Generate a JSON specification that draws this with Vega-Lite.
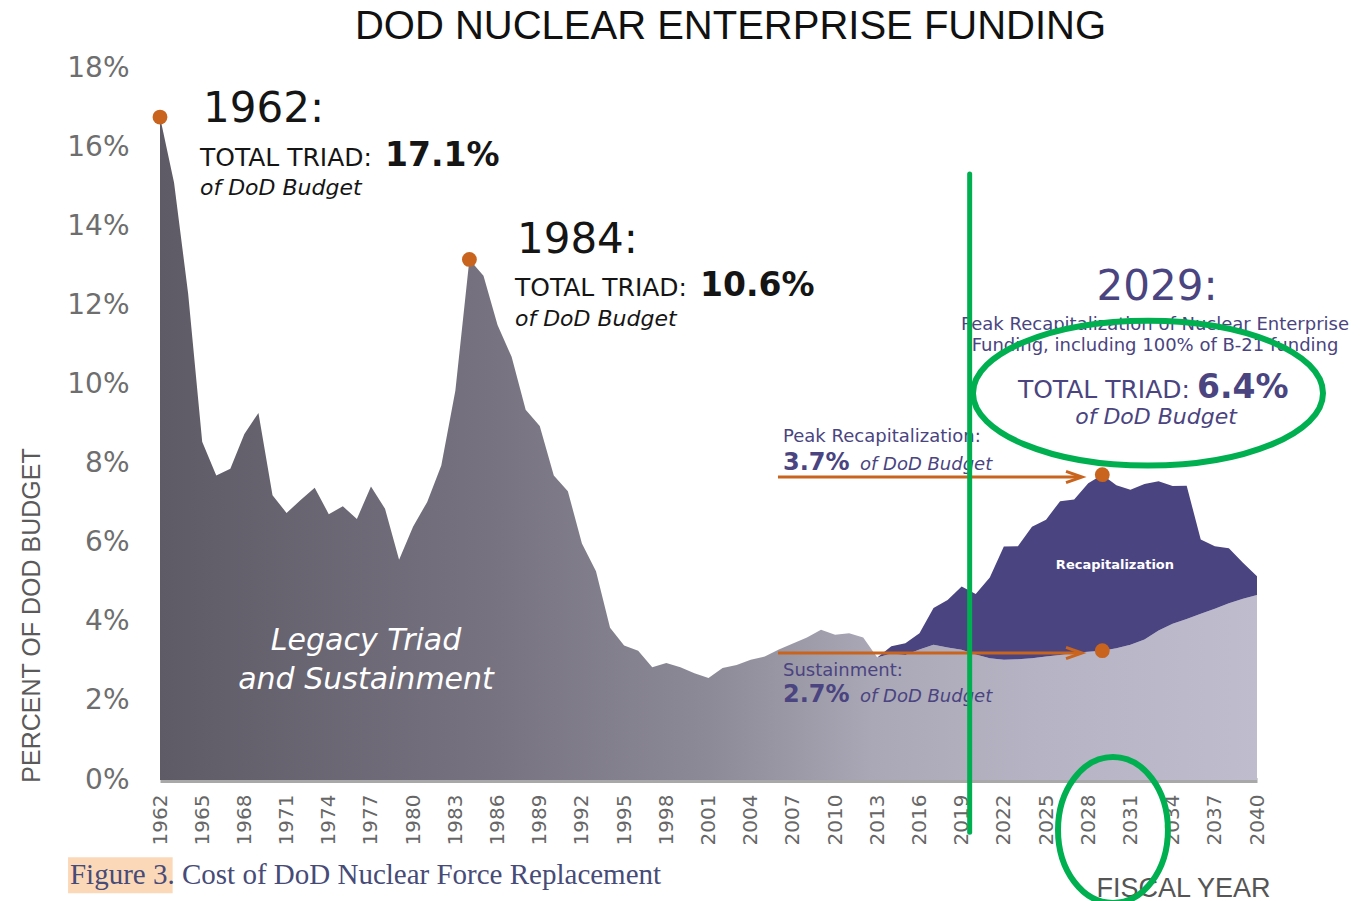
{
  "$schema": "https://vega.github.io/schema/vega-lite/v6.json",
  "width": 1097,
  "height": 712,
  "autosize": {"type": "none"},
  "padding": {"left": 160, "top": 68, "right": 109, "bottom": 121},
  "background": "white",
  "title": {"text": "DOD NUCLEAR ENTERPRISE FUNDING", "font": "Liberation Sans", "fontSize": 40, "fontWeight": "normal", "color": "#111111", "anchor": "middle", "dx": 22, "offset": -25, "baseline": "alphabetic"},
  "config": {"view": {"stroke": null}},
  "data": {"values": [
    {"year": 1962, "base": 16.76}, {"year": 1963, "base": 15.1}, {"year": 1964, "base": 12.3}, {"year": 1965, "base": 8.55},
    {"year": 1966, "base": 7.7}, {"year": 1967, "base": 7.87}, {"year": 1968, "base": 8.75}, {"year": 1969, "base": 9.28},
    {"year": 1970, "base": 7.2}, {"year": 1971, "base": 6.75}, {"year": 1972, "base": 7.08}, {"year": 1973, "base": 7.39},
    {"year": 1974, "base": 6.72}, {"year": 1975, "base": 6.92}, {"year": 1976, "base": 6.6}, {"year": 1977, "base": 7.42},
    {"year": 1978, "base": 6.86}, {"year": 1979, "base": 5.57}, {"year": 1980, "base": 6.41}, {"year": 1981, "base": 7.03},
    {"year": 1982, "base": 7.95}, {"year": 1983, "base": 9.84}, {"year": 1984, "base": 13.16}, {"year": 1985, "base": 12.75},
    {"year": 1986, "base": 11.5}, {"year": 1987, "base": 10.7}, {"year": 1988, "base": 9.36}, {"year": 1989, "base": 8.95},
    {"year": 1990, "base": 7.7}, {"year": 1991, "base": 7.3}, {"year": 1992, "base": 5.98}, {"year": 1993, "base": 5.28},
    {"year": 1994, "base": 3.85}, {"year": 1995, "base": 3.4}, {"year": 1996, "base": 3.27}, {"year": 1997, "base": 2.85},
    {"year": 1998, "base": 2.96}, {"year": 1999, "base": 2.85}, {"year": 2000, "base": 2.7}, {"year": 2001, "base": 2.58},
    {"year": 2002, "base": 2.83}, {"year": 2003, "base": 2.91}, {"year": 2004, "base": 3.04}, {"year": 2005, "base": 3.12},
    {"year": 2006, "base": 3.3}, {"year": 2007, "base": 3.45}, {"year": 2008, "base": 3.6}, {"year": 2009, "base": 3.8},
    {"year": 2010, "base": 3.67}, {"year": 2011, "base": 3.71}, {"year": 2012, "base": 3.6},
    {"year": 2013, "base": 3.1, "total": 3.1}, {"year": 2014, "base": 3.2, "total": 3.38}, {"year": 2015, "base": 3.16, "total": 3.46},
    {"year": 2016, "base": 3.3, "total": 3.71}, {"year": 2017, "base": 3.42, "total": 4.35}, {"year": 2018, "base": 3.35, "total": 4.55},
    {"year": 2019, "base": 3.29, "total": 4.89}, {"year": 2020, "base": 3.17, "total": 4.7}, {"year": 2021, "base": 3.08, "total": 5.12},
    {"year": 2022, "base": 3.04, "total": 5.9}, {"year": 2023, "base": 3.05, "total": 5.91}, {"year": 2024, "base": 3.08, "total": 6.4},
    {"year": 2025, "base": 3.12, "total": 6.58}, {"year": 2026, "base": 3.16, "total": 7.05}, {"year": 2027, "base": 3.22, "total": 7.09},
    {"year": 2028, "base": 3.24, "total": 7.5}, {"year": 2029, "base": 3.27, "total": 7.72}, {"year": 2030, "base": 3.33, "total": 7.45},
    {"year": 2031, "base": 3.42, "total": 7.34}, {"year": 2032, "base": 3.55, "total": 7.48}, {"year": 2033, "base": 3.78, "total": 7.55},
    {"year": 2034, "base": 3.95, "total": 7.43}, {"year": 2035, "base": 4.07, "total": 7.44}, {"year": 2036, "base": 4.2, "total": 6.08},
    {"year": 2037, "base": 4.33, "total": 5.91}, {"year": 2038, "base": 4.47, "total": 5.86}, {"year": 2039, "base": 4.58, "total": 5.49},
    {"year": 2040, "base": 4.68, "total": 5.15}
  ]},
  "layer": [
    {
      "mark": {"type": "area", "interpolate": "linear", "color": {"gradient": "linear", "x1": 0, "y1": 0, "x2": 1, "y2": 0, "stops": [
        {"offset": 0, "color": "#5e5a66"}, {"offset": 0.3, "color": "#76727f"}, {"offset": 0.5, "color": "#8d8a97"},
        {"offset": 0.65, "color": "#aaa7b6"}, {"offset": 0.8, "color": "#b6b4c4"}, {"offset": 1, "color": "#bfbdcd"}]}},
      "encoding": {
        "x": {"field": "year", "type": "quantitative", "scale": {"domain": [1962, 2040], "nice": false, "zero": false},
          "axis": {"values": [1962,1965,1968,1971,1974,1977,1980,1983,1986,1989,1992,1995,1998,2001,2004,2007,2010,2013,2016,2019,2022,2025,2028,2031,2034,2037,2040],
            "format": "d", "labelAngle": 270, "labelFont": "DejaVu Sans", "labelFontSize": 20, "labelColor": "#666666", "labelPadding": 14,
            "ticks": false, "tickSize": 0, "grid": false, "domain": true, "domainColor": "#a8a8a8", "domainWidth": 5, "labelOverlap": false,
            "title": "FISCAL YEAR", "titleFont": "Liberation Sans", "titleFontSize": 27, "titleFontWeight": "normal", "titleColor": "#555555",
            "titleAnchor": "end", "titleAlign": "right", "titleBaseline": "alphabetic", "titleX": 1110, "titleY": 116}},
        "y": {"field": "base", "type": "quantitative", "scale": {"domain": [0, 18], "nice": false, "zero": true},
          "axis": {"values": [0,2,4,6,8,10,12,14,16,18], "labelExpr": "datum.value + '%'", "labelFont": "DejaVu Sans", "labelFontSize": 28,
            "labelColor": "#6e6e6e", "labelPadding": 31, "ticks": false, "tickSize": 0, "grid": false, "domain": false,
            "title": "PERCENT OF DOD BUDGET", "titleFont": "Liberation Sans", "titleFontSize": 25, "titleFontWeight": "normal", "titleColor": "#5a5a5a",
            "titleAngle": 270, "titleAlign": "center", "titleBaseline": "middle", "titleX": -129, "titleY": 547}}
      }
    },
    {
      "transform": [{"filter": "datum.year >= 2013"}],
      "mark": {"type": "area", "interpolate": "linear", "color": "#4a4480"},
      "encoding": {
        "x": {"field": "year", "type": "quantitative"},
        "y": {"field": "total", "type": "quantitative"},
        "y2": {"field": "base"}
      }
    },
    {
      "data": {"values": [{}]},
      "mark": {"type": "rule", "color": "#c8641e", "strokeWidth": 3},
      "encoding": {"x": {"datum": 2005.94, "type": "quantitative"}, "x2": {"datum": 2027.3}, "y": {"datum": 7.66, "type": "quantitative"}}
    },
    {
      "data": {"values": [{}]},
      "mark": {"type": "rule", "color": "#c8641e", "strokeWidth": 3},
      "encoding": {"x": {"datum": 2005.94, "type": "quantitative"}, "x2": {"datum": 2027.3}, "y": {"datum": 3.21, "type": "quantitative"}}
    },
    {
      "data": {"values": [{}]},
      "mark": {"type": "point", "shape": "M -1 -0.7 L 1 0 L -1 0.7", "filled": false, "stroke": "#c8641e", "strokeWidth": 3, "size": 256, "opacity": 1},
      "encoding": {"x": {"datum": 2026.99, "type": "quantitative"}, "y": {"datum": 7.66, "type": "quantitative"}}
    },
    {
      "data": {"values": [{}]},
      "mark": {"type": "point", "shape": "M -1 -0.7 L 1 0 L -1 0.7", "filled": false, "stroke": "#c8641e", "strokeWidth": 3, "size": 256, "opacity": 1},
      "encoding": {"x": {"datum": 2026.99, "type": "quantitative"}, "y": {"datum": 3.21, "type": "quantitative"}}
    },
    {
      "transform": [{"filter": "datum.year == 1962 || datum.year == 1984 || datum.year == 2029"}],
      "mark": {"type": "point", "filled": true, "color": "#c8641e", "size": 220, "opacity": 1},
      "encoding": {"x": {"field": "year", "type": "quantitative"}, "y": {"field": "base", "type": "quantitative"}}
    },
    {
      "transform": [{"filter": "datum.year == 2029"}],
      "mark": {"type": "point", "filled": true, "color": "#c8641e", "size": 220, "opacity": 1},
      "encoding": {"x": {"field": "year", "type": "quantitative"}, "y": {"field": "total", "type": "quantitative"}}
    },
    {
      "data": {"values": [{}]},
      "mark": {"type": "text", "text": "1962:", "font": "DejaVu Sans", "fontSize": 42, "align": "left", "baseline": "alphabetic", "color": "#151515"},
      "encoding": {"x": {"datum": 1965.06, "type": "quantitative"}, "y": {"datum": 16.63, "type": "quantitative"}}
    },
    {
      "data": {"values": [{}]},
      "mark": {"type": "text", "text": "TOTAL TRIAD:", "font": "DejaVu Sans", "fontSize": 25, "align": "left", "baseline": "alphabetic", "color": "#151515"},
      "encoding": {"x": {"datum": 1964.84, "type": "quantitative"}, "y": {"datum": 15.52, "type": "quantitative"}}
    },
    {
      "data": {"values": [{}]},
      "mark": {"type": "text", "text": "17.1%", "font": "DejaVu Sans", "fontSize": 33, "fontWeight": "bold", "align": "left", "baseline": "alphabetic", "color": "#151515"},
      "encoding": {"x": {"datum": 1978.0, "type": "quantitative"}, "y": {"datum": 15.52, "type": "quantitative"}}
    },
    {
      "data": {"values": [{}]},
      "mark": {"type": "text", "text": "of DoD Budget", "font": "DejaVu Sans", "fontSize": 22, "fontStyle": "italic", "align": "left", "baseline": "alphabetic", "color": "#151515"},
      "encoding": {"x": {"datum": 1964.84, "type": "quantitative"}, "y": {"datum": 14.79, "type": "quantitative"}}
    },
    {
      "data": {"values": [{}]},
      "mark": {"type": "text", "text": "1984:", "font": "DejaVu Sans", "fontSize": 42, "align": "left", "baseline": "alphabetic", "color": "#151515"},
      "encoding": {"x": {"datum": 1987.38, "type": "quantitative"}, "y": {"datum": 13.32, "type": "quantitative"}}
    },
    {
      "data": {"values": [{}]},
      "mark": {"type": "text", "text": "TOTAL TRIAD:", "font": "DejaVu Sans", "fontSize": 25, "align": "left", "baseline": "alphabetic", "color": "#151515"},
      "encoding": {"x": {"datum": 1987.24, "type": "quantitative"}, "y": {"datum": 12.24, "type": "quantitative"}}
    },
    {
      "data": {"values": [{}]},
      "mark": {"type": "text", "text": "10.6%", "font": "DejaVu Sans", "fontSize": 33, "fontWeight": "bold", "align": "left", "baseline": "alphabetic", "color": "#151515"},
      "encoding": {"x": {"datum": 2000.4, "type": "quantitative"}, "y": {"datum": 12.24, "type": "quantitative"}}
    },
    {
      "data": {"values": [{}]},
      "mark": {"type": "text", "text": "of DoD Budget", "font": "DejaVu Sans", "fontSize": 22, "fontStyle": "italic", "align": "left", "baseline": "alphabetic", "color": "#151515"},
      "encoding": {"x": {"datum": 1987.24, "type": "quantitative"}, "y": {"datum": 11.48, "type": "quantitative"}}
    },
    {
      "data": {"values": [{}]},
      "mark": {"type": "text", "text": "2029:", "font": "DejaVu Sans", "fontSize": 42, "align": "center", "baseline": "alphabetic", "color": "#4a4480"},
      "encoding": {"x": {"datum": 2032.89, "type": "quantitative"}, "y": {"datum": 12.14, "type": "quantitative"}}
    },
    {
      "data": {"values": [{}]},
      "mark": {"type": "text", "text": "Peak Recapitalization of Nuclear Enterprise", "font": "DejaVu Sans", "fontSize": 18, "align": "center", "baseline": "alphabetic", "color": "#4a4480"},
      "encoding": {"x": {"datum": 2032.75, "type": "quantitative"}, "y": {"datum": 11.38, "type": "quantitative"}}
    },
    {
      "data": {"values": [{}]},
      "mark": {"type": "text", "text": "Funding, including 100% of B-21 funding", "font": "DejaVu Sans", "fontSize": 18, "align": "center", "baseline": "alphabetic", "color": "#4a4480"},
      "encoding": {"x": {"datum": 2032.75, "type": "quantitative"}, "y": {"datum": 10.85, "type": "quantitative"}}
    },
    {
      "data": {"values": [{}]},
      "mark": {"type": "text", "text": "TOTAL TRIAD:", "font": "DejaVu Sans", "fontSize": 25, "align": "left", "baseline": "alphabetic", "color": "#4a4480"},
      "encoding": {"x": {"datum": 2023.0, "type": "quantitative"}, "y": {"datum": 9.66, "type": "quantitative"}}
    },
    {
      "data": {"values": [{}]},
      "mark": {"type": "text", "text": "6.4%", "font": "DejaVu Sans", "fontSize": 33, "fontWeight": "bold", "align": "left", "baseline": "alphabetic", "color": "#4a4480"},
      "encoding": {"x": {"datum": 2035.73, "type": "quantitative"}, "y": {"datum": 9.66, "type": "quantitative"}}
    },
    {
      "data": {"values": [{}]},
      "mark": {"type": "text", "text": "of DoD Budget", "font": "DejaVu Sans", "fontSize": 22, "fontStyle": "italic", "align": "center", "baseline": "alphabetic", "color": "#4a4480"},
      "encoding": {"x": {"datum": 2032.82, "type": "quantitative"}, "y": {"datum": 9.0, "type": "quantitative"}}
    },
    {
      "data": {"values": [{}]},
      "mark": {"type": "text", "text": "Peak Recapitalization:", "font": "DejaVu Sans", "fontSize": 18, "align": "left", "baseline": "alphabetic", "color": "#4a4480"},
      "encoding": {"x": {"datum": 2006.3, "type": "quantitative"}, "y": {"datum": 8.545, "type": "quantitative"}}
    },
    {
      "data": {"values": [{}]},
      "mark": {"type": "text", "text": "3.7%", "font": "DejaVu Sans", "fontSize": 24, "fontWeight": "bold", "align": "left", "baseline": "alphabetic", "color": "#4a4480"},
      "encoding": {"x": {"datum": 2006.3, "type": "quantitative"}, "y": {"datum": 7.84, "type": "quantitative"}}
    },
    {
      "data": {"values": [{}]},
      "mark": {"type": "text", "text": "of DoD Budget", "font": "DejaVu Sans", "fontSize": 18, "fontStyle": "italic", "align": "left", "baseline": "alphabetic", "color": "#4a4480"},
      "encoding": {"x": {"datum": 2011.77, "type": "quantitative"}, "y": {"datum": 7.84, "type": "quantitative"}}
    },
    {
      "data": {"values": [{}]},
      "mark": {"type": "text", "text": "Sustainment:", "font": "DejaVu Sans", "fontSize": 18, "align": "left", "baseline": "alphabetic", "color": "#4a4480"},
      "encoding": {"x": {"datum": 2006.3, "type": "quantitative"}, "y": {"datum": 2.63, "type": "quantitative"}}
    },
    {
      "data": {"values": [{}]},
      "mark": {"type": "text", "text": "2.7%", "font": "DejaVu Sans", "fontSize": 24, "fontWeight": "bold", "align": "left", "baseline": "alphabetic", "color": "#4a4480"},
      "encoding": {"x": {"datum": 2006.3, "type": "quantitative"}, "y": {"datum": 1.97, "type": "quantitative"}}
    },
    {
      "data": {"values": [{}]},
      "mark": {"type": "text", "text": "of DoD Budget", "font": "DejaVu Sans", "fontSize": 18, "fontStyle": "italic", "align": "left", "baseline": "alphabetic", "color": "#4a4480"},
      "encoding": {"x": {"datum": 2011.77, "type": "quantitative"}, "y": {"datum": 1.97, "type": "quantitative"}}
    },
    {
      "data": {"values": [{}]},
      "mark": {"type": "text", "text": "Recapitalization", "font": "DejaVu Sans", "fontSize": 13, "fontWeight": "bold", "align": "center", "baseline": "alphabetic", "color": "#ffffff"},
      "encoding": {"x": {"datum": 2029.9, "type": "quantitative"}, "y": {"datum": 5.33, "type": "quantitative"}}
    },
    {
      "data": {"values": [{}]},
      "mark": {"type": "text", "text": "Legacy Triad", "font": "DejaVu Sans", "fontSize": 30, "fontStyle": "italic", "align": "center", "baseline": "alphabetic", "color": "#ffffff"},
      "encoding": {"x": {"datum": 1976.65, "type": "quantitative"}, "y": {"datum": 3.29, "type": "quantitative"}}
    },
    {
      "data": {"values": [{}]},
      "mark": {"type": "text", "text": "and Sustainment", "font": "DejaVu Sans", "fontSize": 30, "fontStyle": "italic", "align": "center", "baseline": "alphabetic", "color": "#ffffff"},
      "encoding": {"x": {"datum": 1976.65, "type": "quantitative"}, "y": {"datum": 2.3, "type": "quantitative"}}
    },
    {
      "data": {"values": [{}]},
      "mark": {"type": "rect", "color": "#fbd9b8"},
      "encoding": {"x": {"datum": 1955.46, "type": "quantitative"}, "x2": {"datum": 1962.9}, "y": {"datum": -1.95, "type": "quantitative"}, "y2": {"datum": -2.86}}
    },
    {
      "data": {"values": [{}]},
      "mark": {"type": "text", "text": "Figure 3. Cost of DoD Nuclear Force Replacement", "font": "Liberation Serif", "fontSize": 29, "align": "left", "baseline": "alphabetic", "color": "#474b78"},
      "encoding": {"x": {"datum": 1955.6, "type": "quantitative"}, "y": {"datum": -2.63, "type": "quantitative"}}
    },
    {
      "data": {"values": [{}]},
      "mark": {"type": "rule", "color": "#00b050", "strokeWidth": 5, "strokeCap": "round"},
      "encoding": {"x": {"datum": 2019.57, "type": "quantitative"}, "y": {"datum": 15.32, "type": "quantitative"}, "y2": {"datum": -1.32}}
    },
    {
      "data": {"values": [{}]},
      "mark": {"type": "point", "shape": "M -1 0 A 1 0.414 0 1 1 1 0 A 1 0.414 0 1 1 -1 0 Z", "filled": false, "stroke": "#00b050", "strokeWidth": 6, "size": 122500, "opacity": 1},
      "encoding": {"x": {"datum": 2032.25, "type": "quantitative"}, "y": {"datum": 9.78, "type": "quantitative"}}
    },
    {
      "data": {"values": [{}]},
      "mark": {"type": "point", "shape": "M -0.753 0 A 0.753 1 0 1 1 0.753 0 A 0.753 1 0 1 1 -0.753 0 Z", "filled": false, "stroke": "#00b050", "strokeWidth": 6, "size": 21316, "opacity": 1},
      "encoding": {"x": {"datum": 2029.76, "type": "quantitative"}, "y": {"datum": -1.264, "type": "quantitative"}}
    }
  ]
}
